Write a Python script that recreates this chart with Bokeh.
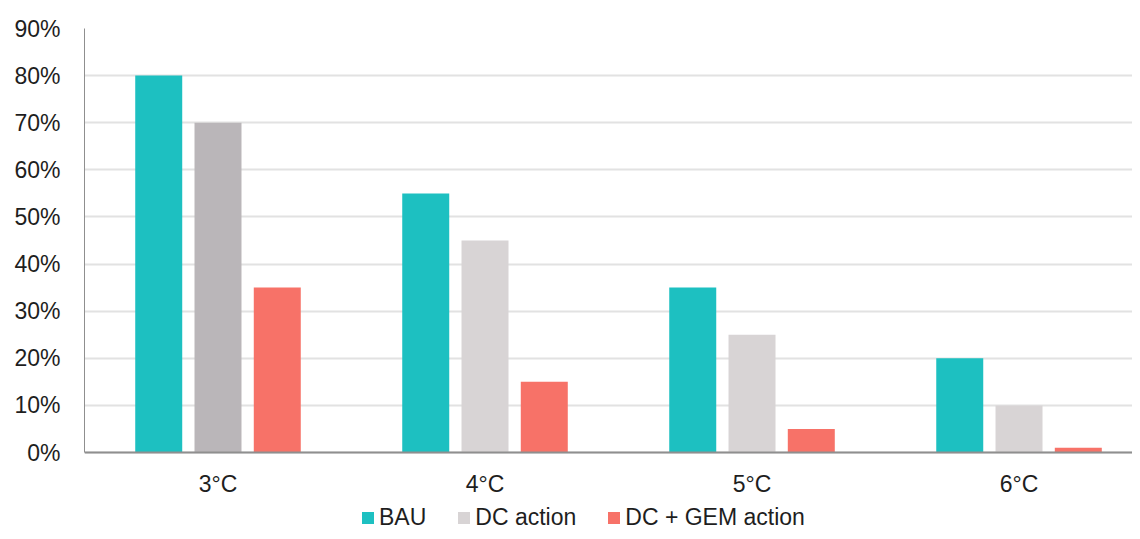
from bokeh.plotting import figure
from bokeh.models import (ColumnDataSource, FixedTicker, PrintfTickFormatter,
                          Legend, LegendItem, Range1d)
from bokeh.embed import file_html
from bokeh.resources import INLINE

# ---- data ----
categories = ["3°C", "4°C", "5°C", "6°C"]
bau = [80, 55, 35, 20]
dc_action = [70, 45, 25, 10]
dc_gem_action = [35, 15, 5, 1]
y_ticks = [0, 10, 20, 30, 40, 50, 60, 70, 80, 90]

# ---- styles ----
FONT = "Liberation Sans"
C_BAU = "#1dc0c1"
C_DC = "#d8d4d5"
C_DC_DARK = "#bab6b9"
C_GEM = "#f77268"
TEXT = "#1e1e1e"

centers = [i + 0.5 for i in range(len(categories))]
offset = 0.222
bw = 0.176

dc_colors = [C_DC_DARK] + [C_DC] * (len(categories) - 1)

src_bau = ColumnDataSource(dict(x=[c - offset for c in centers], top=bau))
src_dc = ColumnDataSource(dict(x=centers, top=dc_action, color=dc_colors))
src_gem = ColumnDataSource(dict(x=[c + offset for c in centers], top=dc_gem_action))

# frame spans 28..531 px; 0% sits at 452 px, 90% at 28 px
y_bottom = -(531 - 452) * 90.0 / (452 - 28)

p = figure(width=1132, height=531, output_backend="svg", toolbar_location=None,
           x_range=Range1d(0, 3.925), y_range=Range1d(y_bottom, 90),
           min_border_left=84, min_border_right=0, min_border_top=28,
           min_border_bottom=0)
p.outline_line_color = None
p.background_fill_color = "white"
p.border_fill_color = "white"

r_bau = p.vbar(x="x", top="top", width=bw, bottom=0, source=src_bau,
               fill_color=C_BAU, line_color=None)
r_dc = p.vbar(x="x", top="top", width=bw, bottom=0, source=src_dc,
              fill_color="color", line_color=None)
r_gem = p.vbar(x="x", top="top", width=bw, bottom=0, source=src_gem,
               fill_color=C_GEM, line_color=None)

p.xgrid.grid_line_color = None
p.ygrid.grid_line_color = "#e2e2e2"
p.ygrid.grid_line_width = 2
p.ygrid.ticker = FixedTicker(ticks=y_ticks)

# x axis, pinned at 0%
p.xaxis.fixed_location = 0
p.xaxis.ticker = FixedTicker(ticks=centers)
p.xaxis.major_label_overrides = {c: lab for c, lab in zip(centers, categories)}
p.xaxis.major_tick_line_color = None
p.xaxis.minor_tick_line_color = None
p.xaxis.major_tick_out = 0
p.xaxis.major_label_standoff = 18
p.xaxis.axis_line_color = "#8f8f8f"
p.xaxis.axis_line_width = 2
p.xaxis.major_label_text_font = FONT
p.xaxis.major_label_text_font_size = "23px"
p.xaxis.major_label_text_color = TEXT

# y axis
p.yaxis.ticker = FixedTicker(ticks=y_ticks)
p.yaxis.bounds = (0, 90)
p.yaxis.formatter = PrintfTickFormatter(format="%d%%")
p.yaxis.major_tick_line_color = None
p.yaxis.minor_tick_line_color = None
p.yaxis.major_tick_out = 0
p.yaxis.major_label_standoff = 24
p.yaxis.axis_line_color = "#8f8f8f"
p.yaxis.axis_line_width = 1
p.yaxis.major_label_text_font = FONT
p.yaxis.major_label_text_font_size = "23px"
p.yaxis.major_label_text_color = TEXT

legend = Legend(items=[
    LegendItem(label="BAU", renderers=[r_bau]),
    LegendItem(label="DC action", renderers=[r_dc], index=1),
    LegendItem(label="DC + GEM action", renderers=[r_gem]),
], orientation="horizontal", location=(276, 0))
legend.border_line_color = None
legend.background_fill_alpha = 0
legend.padding = 0
legend.margin = 0
legend.spacing = 30
legend.glyph_width = 15
legend.glyph_height = 15
legend.label_standoff = 4
legend.label_text_font = FONT
legend.label_text_font_size = "23px"
legend.label_text_color = TEXT
p.add_layout(legend, "center")

open("out.html", "w").write(file_html(p, INLINE))
